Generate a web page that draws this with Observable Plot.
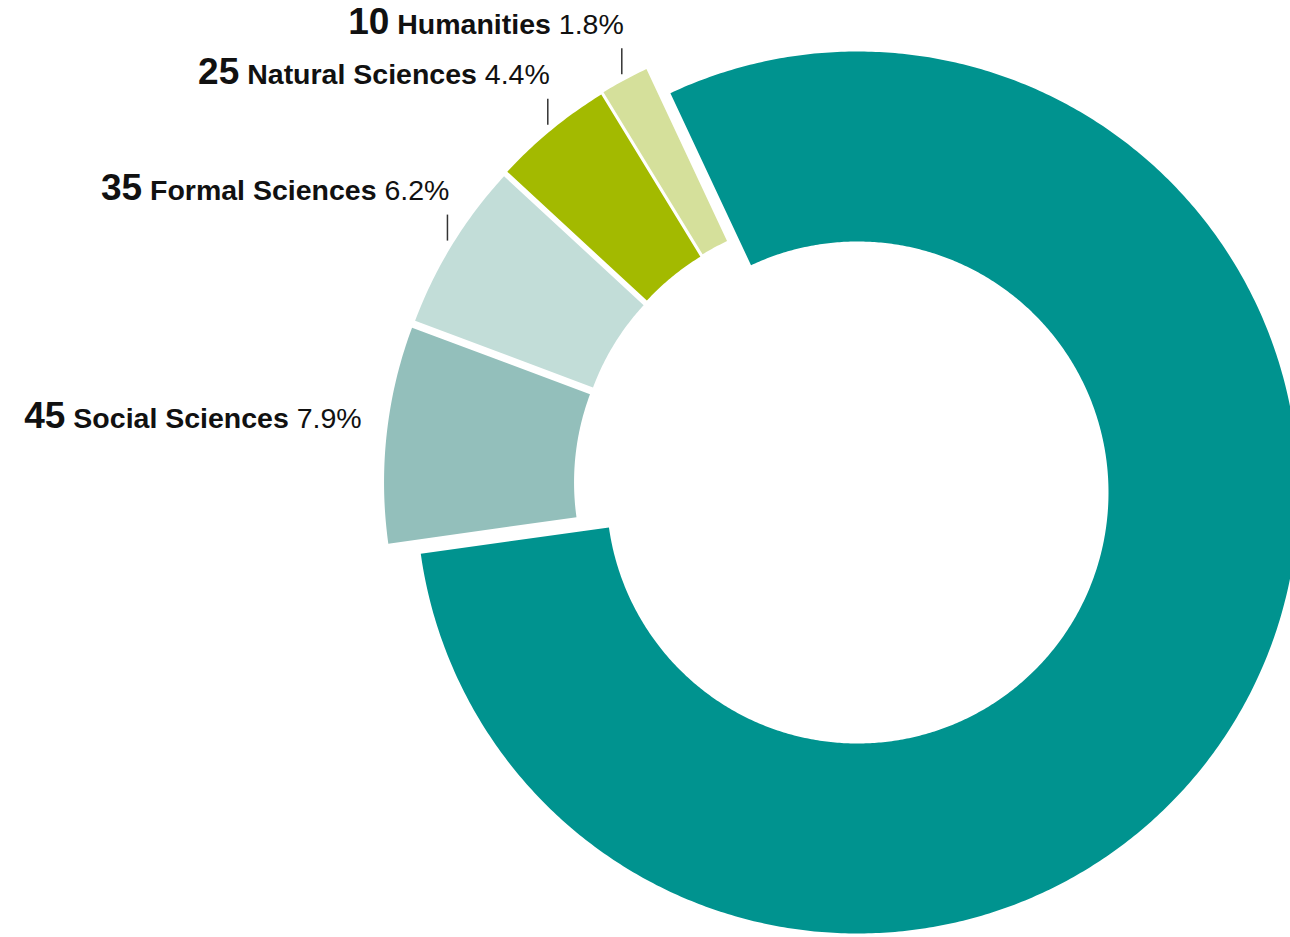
<!DOCTYPE html>
<html><head><meta charset="utf-8">
<script src="https://cdn.jsdelivr.net/npm/d3@7"></script>
<script src="https://cdn.jsdelivr.net/npm/@observablehq/plot@0.6"></script>
<style>
html,body{margin:0;padding:0;background:#fff;}
#chart svg{display:block;}
</style>
</head><body><div id="chart"></div>
<script>
// ---- data ----
const categories = ["Other", "Social Sciences", "Formal Sciences", "Natural Sciences", "Humanities"];
const counts = [453, 45, 35, 25, 10];
const colors = ["#00938f", "#93bfbb", "#c2ddd8", "#a3ba00", "#d5e09b"];
const showLabel = [false, true, true, true, true];
const hasLeader = [false, false, true, true, true];

// ---- layout ----
const W = 1290, H = 937;
const cx = 857, cy = 492;        // donut centre in the frame
const R = 441, r0 = 251;         // outer / inner radius
const startDeg = -25.1;          // first slice starts here (clockwise from 12 o'clock)
const explode = 34;              // pull-out of the small slices

const total = d3.sum(counts);
const a0 = startDeg * Math.PI / 180;
const arcs = d3.pie().sort(null).startAngle(a0).endAngle(a0 + 2 * Math.PI)(counts);

// direction of pull-out: spread around the middle of the small-slice group
const gm = (arcs[1].startAngle + arcs[arcs.length - 1].endAngle) / 2;
const offsets = arcs.map((a, i) => {
  if (i === 0) return [0, 0];
  const mid = (a.startAngle + a.endAngle) / 2;
  const dir = gm + 0.5 * (mid - gm);
  return [explode * Math.sin(dir), explode * Math.cos(dir)];
});

const points = [];
arcs.forEach((a, i) => {
  const [ox, oy] = offsets[i];
  const name = categories[i];
  const n = Math.max(8, Math.ceil((a.endAngle - a.startAngle) / (Math.PI / 360)));
  const ring = [];
  for (let k = 0; k <= n; k++) {
    const t = a.startAngle + (a.endAngle - a.startAngle) * k / n;
    ring.push({name, x: ox + R * Math.sin(t), y: oy + R * Math.cos(t)});
  }
  for (let k = n; k >= 0; k--) {
    const t = a.startAngle + (a.endAngle - a.startAngle) * k / n;
    ring.push({name, x: ox + r0 * Math.sin(t), y: oy + r0 * Math.cos(t)});
  }
  ring.push({...ring[0]});
  points.push(...ring);
});

const leaders = [], labels = [];
arcs.forEach((a, i) => {
  if (!showLabel[i]) return;
  const [ox, oy] = offsets[i];
  const mid = (a.startAngle + a.endAngle) / 2;
  const px = ox + (R + 6) * Math.sin(mid);
  const py = oy + (R + 6) * Math.cos(mid);
  const pct = (counts[i] / total * 100).toFixed(1) + "%";
  const text = counts[i] + "|" + categories[i] + "|" + pct;
  if (hasLeader[i]) {
    leaders.push({x: px, y1: py, y2: py + 26});
    labels.push({x: px + 2, y: py + 41, text});
  } else {
    labels.push({x: px - 19, y: py + 5.5, text});
  }
});

const svg = Plot.plot({
  width: W, height: H,
  margin: 0,
  x: {domain: [-cx, W - cx], axis: null},
  y: {domain: [cy - H, cy], axis: null},
  color: {domain: categories, range: colors},
  style: {fontFamily: "'Liberation Sans', Arial, Helvetica, sans-serif", background: "#fff"},
  marks: [
    Plot.line(points, {x: "x", y: "y", z: "name", fill: "name", stroke: "none"}),
    Plot.ruleX(leaders, {x: "x", y1: "y1", y2: "y2", stroke: "#333", strokeWidth: 1.5}),
    Plot.text(labels, {x: "x", y: "y", text: "text", textAnchor: "end", lineAnchor: "bottom", fill: "#111", fontSize: 28.5})
  ]
});

// mixed weights/sizes inside each label
svg.querySelectorAll("text").forEach(t => {
  const s = t.textContent;
  if (!s.includes("|")) return;
  const [num, name, pct] = s.split("|");
  t.textContent = "";
  const ns = "http://www.w3.org/2000/svg";
  const mk = (str, size, weight) => {
    const sp = document.createElementNS(ns, "tspan");
    sp.textContent = str;
    sp.setAttribute("font-size", size);
    sp.setAttribute("font-weight", weight);
    t.appendChild(sp);
  };
  mk(num, 37, "bold");
  mk(" " + name, 28.5, "bold");
  mk(" " + pct, 28.5, "normal");
});

document.getElementById("chart").appendChild(svg);
</script>
</body></html>
